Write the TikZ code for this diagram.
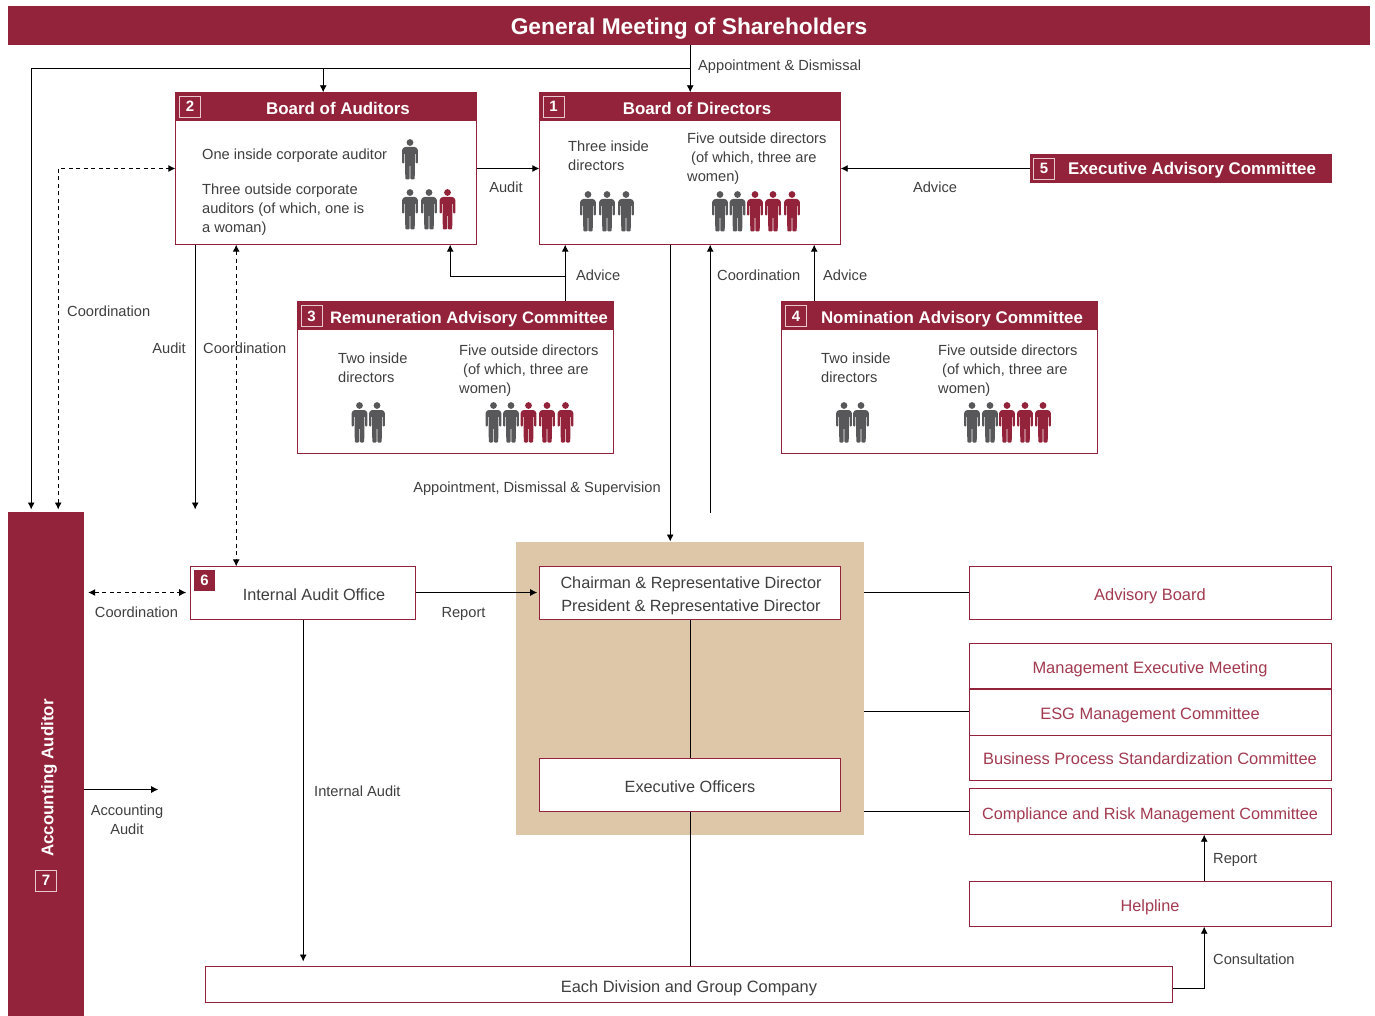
\documentclass[tikz,border=0pt]{standalone}
\usepackage{fontspec}
\setmainfont{Liberation Sans}
\usetikzlibrary{arrows.meta}
\definecolor{wine}{HTML}{92233A}
\definecolor{gp}{HTML}{58585A}
\definecolor{txt}{HTML}{3F3F3F}
\definecolor{tan}{HTML}{DEC6A8}
\definecolor{numline}{HTML}{E6C8CE}
\definecolor{redtxt}{HTML}{A23A50}
\tikzset{
  x=1pt,y=-1pt,
  panel/.style={draw=wine,line width=0.9pt,fill=white,inner sep=0pt,outer sep=0pt},
  redbar/.style={fill=wine,inner sep=0pt,outer sep=0pt},
  hdr/.style={redbar},
  numbox/.style={draw=numline,line width=0.9pt,inner sep=0pt,outer sep=0pt,minimum width=21pt,minimum height=21pt,text=white,font=\fontsize{15}{18}\selectfont\bfseries},
  numfill/.style={fill=wine,inner sep=0pt,outer sep=0pt,minimum width=21pt,minimum height=21pt,text=white,font=\fontsize{15}{18}\selectfont\bfseries},
  head/.style={text=white,inner sep=0pt,anchor=base,font=\fontsize{16.9}{20}\selectfont\bfseries},
  lab/.style={text=txt,inner sep=0pt,anchor=base west,font=\fontsize{14.65}{19}\selectfont,align=left},
  clab/.style={text=txt,inner sep=0pt,anchor=base,font=\fontsize{14.65}{19}\selectfont,align=center},
  big/.style={text=txt,inner sep=0pt,anchor=base,font=\fontsize{16.25}{22.4}\selectfont,align=center},
  redl/.style={text=redtxt,inner sep=0pt,anchor=base,font=\fontsize{16.45}{21}\selectfont},
  conn/.style={draw=black,line width=0.9pt},
  arr/.style={conn,-{Latex[length=7pt,width=7pt]}},
  darr/.style={conn,dash pattern=on 4pt off 3.5pt,{Latex[length=7pt,width=7pt]}-{Latex[length=7pt,width=7pt]}},
  pics/person/.style={code={
    \fill[#1] (0,3.5) circle (3.4);
    \fill[#1,rounded corners=1pt] (-5.5,8) -- (5.5,8) -- (7.8,10) -- (7.8,24.5) -- (5.6,24.5) -- (5.6,14) -- (5,14) -- (4.7,40.5) -- (0.4,40.5) -- (0.4,26) -- (-0.4,26) -- (-0.4,40.5) -- (-4.7,40.5) -- (-5,14) -- (-5.6,14) -- (-5.6,24.5) -- (-7.8,24.5) -- (-7.8,10) -- cycle;
  }}
}
\begin{document}
\begin{tikzpicture}
\useasboundingbox (0,0) rectangle (1375,1016);
% tan backdrop
\fill[tan] (516,542) rectangle (864,835);
% main boxes
\node[redbar,minimum width=1362pt,minimum height=39pt] (gm) at (689,25.5) {};
\node[text=white,inner sep=0pt,anchor=base,font=\fontsize{22.75}{26}\selectfont\bfseries] (gmt) at (689,35) {General Meeting of Shareholders};

\node[panel,minimum width=301.4pt,minimum height=152.4pt] (boa) at (326,168.5) {};
\node[hdr,minimum width=301.4pt,minimum height=29pt] (boah) at (326,106.5) {};
\node[numbox] (n2) at (190,106.5) {2};
\node[head] (boat) at (338,114.3) {Board of Auditors};

\node[panel,minimum width=301.4pt,minimum height=152.4pt] (bod) at (690,168.5) {};
\node[hdr,minimum width=301.4pt,minimum height=29pt] (bodh) at (690,106.5) {};
\node[numbox] (n1) at (553.5,106.5) {1};
\node[head] (bodt) at (697,114.3) {Board of Directors};

\node[redbar,minimum width=302pt,minimum height=29pt] (eac) at (1181,168.5) {};
\node[numbox] (n5) at (1044,168.5) {5};
\node[head] (eact) at (1192,175) {Executive Advisory Committee};

\node[panel,minimum width=316.4pt,minimum height=152.4pt] (rac) at (455.5,377.5) {};
\node[hdr,minimum width=316.4pt,minimum height=29pt] (rach) at (455.5,315.5) {};
\node[numbox] (n3) at (311.5,316) {3};
\node[head,font=\fontsize{16.6}{20}\selectfont\bfseries] (ract) at (469,323) {Remuneration Advisory Committee};

\node[panel,minimum width=316.4pt,minimum height=152.4pt] (nac) at (939.5,377.5) {};
\node[hdr,minimum width=316.4pt,minimum height=29pt] (nach) at (939.5,315.5) {};
\node[numbox] (n4) at (796,316) {4};
\node[head] (nact) at (952,323) {Nomination Advisory Committee};

\node[redbar,minimum width=76pt,minimum height=504pt] (aa) at (46,764) {};
\node[head,rotate=90] (aat) at (53.3,778) {Accounting Auditor};
\node[numbox] (n7) at (46,880.5) {7};

\node[panel,minimum width=225.4pt,minimum height=53.4pt] (iao) at (303,593) {};
\node[big] (iaot) at (314,600) {Internal Audit Office};
\node[numfill] (n6) at (204.5,580.5) {6};

\node[panel,minimum width=301.4pt,minimum height=53.4pt] (chair) at (690,593) {};
\node[big] (chairt) at (691,611) {Chairman \& Representative Director\\President \& Representative Director};
\node[panel,minimum width=301.4pt,minimum height=53.4pt] (exec) at (690,785) {};
\node[big] (exect) at (690,792) {Executive Officers};

\node[panel,minimum width=362.4pt,minimum height=53.4pt] (adv) at (1150.5,593) {};
\node[redl] (advt) at (1150,600) {Advisory Board};
\node[panel,minimum width=362.4pt,minimum height=45.4pt] (mem) at (1150.5,666) {};
\node[redl] (memt) at (1150,673.3) {Management Executive Meeting};
\node[panel,minimum width=362.4pt,minimum height=46pt] (esg) at (1150.5,712) {};
\node[redl] (esgt) at (1150,719.3) {ESG Management Committee};
\node[panel,minimum width=362.4pt,minimum height=45.4pt] (bps) at (1150.5,758) {};
\node[redl] (bpst) at (1150,764) {Business Process Standardization Committee};
\node[panel,minimum width=362.4pt,minimum height=46.4pt] (crm) at (1150.5,811.5) {};
\node[redl,font=\fontsize{16.25}{21}\selectfont] (crmt) at (1150,819.3) {Compliance and Risk Management Committee};
\node[panel,minimum width=362.4pt,minimum height=45.4pt] (help) at (1150.5,904) {};
\node[redl,font=\fontsize{16.25}{21}\selectfont] (helpt) at (1150,911) {Helpline};
\node[panel,minimum width=967.4pt,minimum height=36.4pt] (div) at (689,984.5) {};
\node[big,font=\fontsize{16.4}{21}\selectfont] (divt) at (689,992) {Each Division and Group Company};

% connectors
\begin{scope}[shift={(0.2,-0.5)}]
\coordinate (j1) at (690,69);
\coordinate (j2) at (323,69);
\coordinate (j3) at (31,69);
\coordinate (aa1) at (31,510);
\coordinate (aa2) at (58,510);
\coordinate (aa3) at (195,510);
\coordinate (dj) at (58,169);
\coordinate (rj) at (565,277);
\coordinate (rj2) at (450,277);
\coordinate (co) at (710,513);
\coordinate (aud) at (158,790);
\coordinate (dleft) at (88,593);
\coordinate (dj2) at (1204,989);
\coordinate (tan1) at (864,593);
\coordinate (tan2) at (864,712);
\coordinate (tan3) at (864,812);
\draw[arr] (gm.south -| j1) -- (bod.north -| j1);
\draw[arr] (j1) -- (j3) -- (aa1);
\draw[arr] (j2) -- (boa.north -| j2);
\draw[arr] (boa.east |- dj) -- (bod.west |- dj);
\draw[arr] (eac.west |- dj) -- (bod.east |- dj);
\draw[darr] (aa2) -- (dj) -- (boa.west |- dj);
\draw[arr] (boa.south -| aa3) -- (aa3);
\draw[darr] (boa.south -| 236,0) -- (iao.north -| 236,0);
\draw[arr] (rac.north -| rj) -- (bod.south -| rj);
\draw[arr] (rj) -- (rj2) -- (boa.south -| rj2);
\draw[arr] (nac.north -| 814,0) -- (bod.south -| 814,0);
\draw[arr] (bod.south -| 670,0) -- (670,542);
\draw[arr] (co) -- (bod.south -| co);
\draw[arr] (iao.east |- dleft) -- (537,593);
\draw[darr] (dleft) -- (186,593);
\draw[arr] (iao.south -| 303,0) -- (303,962);
\draw[conn] (chair.south -| j1) -- (exec.north -| j1);
\draw[conn] (exec.south -| j1) -- (div.north -| j1);
\draw[conn] (tan1) -- (adv.west |- tan1);
\draw[conn] (tan2) -- (esg.west |- tan2);
\draw[conn] (tan3) -- (crm.west |- tan3);
\draw[arr] (help.north -| dj2) -- (crm.south -| dj2);
\draw[arr] (div.east |- dj2) -- (dj2) -- (help.south -| dj2);
\draw[arr] (aa.east |- aud) -- (aud);
\end{scope}

% panel text
\node[lab] (t1) at (202,160) {One inside corporate auditor};
\node[lab] (t2) at (202,233) {Three outside corporate\\auditors (of which, one is\\a woman)};
\node[lab] (t3) at (568,171) {Three inside\\directors};
\node[lab] (t4) at (687,182) {Five outside directors\\\hspace*{4pt}(of which, three are\\women)};
\node[lab] (t5) at (338,382) {Two inside\\directors};
\node[lab] (t6) at (459,393) {Five outside directors\\\hspace*{4pt}(of which, three are\\women)};
\node[lab] (t7) at (821,382) {Two inside\\directors};
\node[lab] (t8) at (938,393) {Five outside directors\\\hspace*{4pt}(of which, three are\\women)};

% people
\pic at (410,139) {person=gp};
\foreach \x in {410,429} {\pic at (\x,189) {person=gp};}
\pic at (447.5,189) {person=wine};
\foreach \x in {588,607,626} {\pic at (\x,191) {person=gp};}
\foreach \x in {720,737.5} {\pic at (\x,191) {person=gp};}
\foreach \x in {755,773,792} {\pic at (\x,191) {person=wine};}
\foreach \x in {359.5,377,493.5,511} {\pic at (\x,402) {person=gp};}
\foreach \x in {528.5,547,565.5} {\pic at (\x,402) {person=wine};}
\foreach \x in {844,861,972,990} {\pic at (\x,402) {person=gp};}
\foreach \x in {1007,1025,1043} {\pic at (\x,402) {person=wine};}

% connector labels
\node[lab] (l1) at (698,71) {Appointment \& Dismissal};
\node[clab] (l2) at (506,193) {Audit};
\node[clab] (l3) at (935,193) {Advice};
\node[lab] (l4) at (576,280) {Advice};
\node[lab] (l5) at (717,280) {Coordination};
\node[lab] (l6) at (823,280) {Advice};
\node[lab] (l7) at (67,316) {Coordination};
\node[lab,anchor=base east] (l8) at (186,353) {Audit};
\node[lab] (l9) at (203,353) {Coordination};
\node[lab,anchor=base east] (l10) at (661,492) {Appointment, Dismissal \& Supervision};
\node[clab] (l11) at (136.5,617) {Coordination};
\node[clab] (l12) at (463.5,617) {Report};
\node[clab] (l13) at (127,834) {Accounting\\Audit};
\node[lab] (l14) at (314,796) {Internal Audit};
\node[lab] (l15) at (1213,863) {Report};
\node[lab] (l16) at (1213,964) {Consultation};
\end{tikzpicture}
\end{document}
